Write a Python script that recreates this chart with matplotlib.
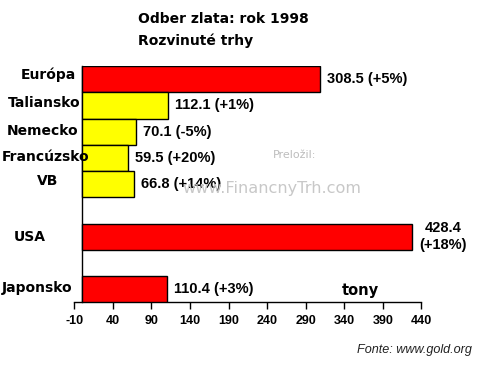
import matplotlib
matplotlib.use("Agg")
import matplotlib.pyplot as plt
from matplotlib.transforms import offset_copy

# ---- data ----
categories = ["Európa", "Taliansko", "Nemecko", "Francúzsko", "VB", "USA", "Japonsko"]
values = [308.5, 112.1, 70.1, 59.5, 66.8, 428.4, 110.4]
changes = ["+5%", "+1%", "-5%", "+20%", "+14%", "+18%", "+3%"]
slots = [0, 1, 2, 3, 4, 6, 8]
colors = ["#ff0000", "#ffff00", "#ffff00", "#ffff00", "#ffff00", "#ff0000", "#ff0000"]
xticks = [-10, 40, 90, 140, 190, 240, 290, 340, 390, 440]
title_lines = ["Odber zlata: rok 1998", "Rozvinuté trhy"]
unit_label = "tony"
source = "Fonte: www.gold.org"

# label placement tweaks (pixels): (x anchor in px, ha, dy px)
cat_pos = [(76, "right", -4), (80, "right", -2), (78, "right", -1),
           (89, "right", -1), (48, "center", -3), (30, "center", 0),
           (72, "right", -1)]

W, H = 496, 380
fig = plt.figure(figsize=(W / 100, H / 100), dpi=100)
fig.patch.set_facecolor("white")

ax_l, ax_r, ax_t, ax_b = 74.3, 421.3, 66.0, 302.3
ax = fig.add_axes([ax_l / W, 1 - ax_b / H, (ax_r - ax_l) / W, (ax_b - ax_t) / H])

ax.barh(slots, values, height=1.0, left=0, color=colors,
        edgecolor="black", linewidth=1.0, zorder=3)

ax.set_xlim(xticks[0], xticks[-1])
ax.set_ylim(8.5, -0.5)
ax.set_xticks(xticks)
ax.set_xticklabels([str(t) for t in xticks], fontfamily="Liberation Sans",
                   fontweight="bold", fontsize=9)
ax.tick_params(axis="x", direction="out", length=5, width=1, pad=4.5, colors="black")
ax.set_yticks([])
for s in ["top", "right"]:
    ax.spines[s].set_visible(False)
ax.spines["left"].set_position(("data", 0))
ax.spines["left"].set_linewidth(1.0)
ax.spines["bottom"].set_linewidth(1.0)
ax.patch.set_alpha(0)

# value labels
for s, v, c in zip(slots, values, changes):
    tr = offset_copy(ax.transData, fig=fig, x=7, y=0, units="dots")
    if v > 400:
        txt = f"{v:.1f}\n({c})"
        ax.text(v, s, txt, transform=tr, ha="left", va="center",
                multialignment="center", fontsize=10.5, fontweight="bold",
                fontfamily="Liberation Sans", linespacing=1.25, zorder=6)
    else:
        ax.text(v, s, f"{v:.1f} ({c})", transform=tr, ha="left", va="center",
                fontsize=10.5, fontweight="bold", fontfamily="Liberation Sans",
                zorder=6)

# category labels
for s, name, (px, ha, dy) in zip(slots, categories, cat_pos):
    yc = ax.transData.transform((0, s))[1]
    fig.text(px / W, (yc - dy) / H, name, ha=ha, va="center",
             fontsize=10, fontweight="bold", zorder=5)

# titles
fig.text(138 / W, 1 - 19 / H, title_lines[0], ha="left", va="center",
         fontsize=10, fontweight="bold")
fig.text(138 / W, 1 - 41 / H, title_lines[1], ha="left", va="center",
         fontsize=10, fontweight="bold")

# unit
fig.text(360 / W, 1 - 290 / H, unit_label, ha="center", va="center",
         fontsize=10.5, fontweight="bold")

# source
fig.text(472 / W, 1 - 350 / H, source, ha="right", va="center",
         fontsize=9.1, style="italic", fontfamily="Liberation Sans", color="#222222")

# watermark
fig.text(295 / W, 1 - 155 / H, "Preložil:", ha="center", va="center",
         fontsize=8, color="#bdbdbd", zorder=0)
fig.text(272 / W, 1 - 188 / H, "www.FinancnyTrh.com", ha="center", va="center",
         fontsize=11.6, color="#c8c8c8", zorder=0)

fig.savefig("out.png", dpi=100, facecolor="white")
